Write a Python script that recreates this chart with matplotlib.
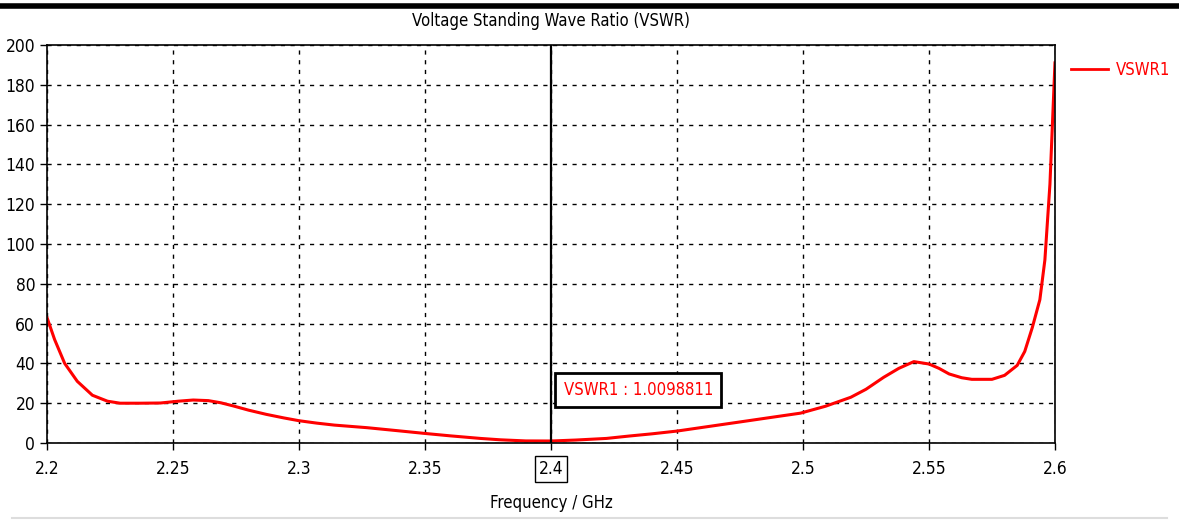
import matplotlib.pyplot as plt
from matplotlib.lines import Line2D

plt.rcParams['font.family'] = ['DejaVu Sans']
plt.rcParams['font.stretch'] = 'condensed'

# VSWR curve
freq = [2.200, 2.203, 2.207, 2.212, 2.218, 2.224, 2.229, 2.237, 2.245, 2.252,
        2.258, 2.264, 2.269, 2.274, 2.280, 2.287, 2.294, 2.300, 2.307, 2.314,
        2.327, 2.339, 2.350, 2.360, 2.372, 2.380, 2.390, 2.400, 2.410, 2.422,
        2.431, 2.440, 2.450, 2.462, 2.474, 2.487, 2.499, 2.509, 2.519, 2.525,
        2.532, 2.538, 2.544, 2.550, 2.554, 2.558, 2.563, 2.567, 2.575, 2.580,
        2.585, 2.588, 2.591, 2.594, 2.596, 2.598, 2.600]
vswr = [63, 52, 40, 31, 24, 21, 20, 20, 20.1, 21,
        21.6, 21.3, 20.2, 18.6, 16.5, 14.4, 12.6, 11.2, 10, 9,
        7.7, 6.2, 4.8, 3.6, 2.3, 1.6, 1.05, 1.01, 1.5, 2.3,
        3.5, 4.6, 6, 8.2, 10.4, 12.8, 15, 18.5, 23, 27,
        33, 37.5, 40.9, 39.7, 37.5, 34.7, 32.8, 32, 32, 34,
        39, 46, 58, 72, 92, 130, 191]

xticks = [2.2, 2.25, 2.3, 2.35, 2.4, 2.45, 2.5, 2.55, 2.6]
xlabels = ['2.2', '2.25', '2.3', '2.35', '2.4', '2.45', '2.5', '2.55', '2.6']
yticks = list(range(0, 201, 20))

marker_f = 2.4
marker_text = 'VSWR1 : 1.0098811'

fig = plt.figure(figsize=(11.79, 5.21), dpi=100)
ax = fig.add_axes([0.0399, 0.1497, 0.8549, 0.7639])

ax.plot(freq, vswr, color='red', lw=2.2, label='VSWR1')
ax.axvline(marker_f, color='black', lw=1.6)

ax.set_xlim(2.2, 2.6)
ax.set_ylim(0, 200)
ax.set_xticks(xticks)
ax.set_xticklabels(xlabels)
ax.set_yticks(yticks)
ax.grid(True, color='black', linestyle=(0, (3, 4)), lw=1)
ax.tick_params(axis='both', labelsize=12.5, colors='black', length=5, width=1)
ax.tick_params(axis='x', pad=7)
for s in ax.spines.values():
    s.set_linewidth(1.2)

for lab in ax.get_xticklabels():
    if lab.get_text() == '2.4':
        lab.set_bbox(dict(facecolor='white', edgecolor='black', lw=1, pad=3))

ax.set_title('Voltage Standing Wave Ratio (VSWR)', fontsize=12, pad=14)
ax.set_xlabel('Frequency / GHz', fontsize=12, labelpad=12)

ax.text(2.4346, 26.6, marker_text, color='red', fontsize=12, ha='center', va='center',
        bbox=dict(facecolor='white', edgecolor='black', lw=2, pad=6))

fig.legend(handles=[Line2D([], [], color='red', lw=2)], labels=['VSWR1'],
           loc='upper left', bbox_to_anchor=(1056 / 1179, 1 - 46 / 521),
           frameon=False, labelcolor='red', fontsize=12, handlelength=2.2,
           handletextpad=0.5)

# page decorations: thick rule at top, thin grey rule at bottom
fig.add_artist(Line2D([0, 1], [1 - 6 / 521, 1 - 6 / 521], color='black', lw=4))
fig.add_artist(Line2D([0.01, 0.99], [1 - 518 / 521, 1 - 518 / 521], color='#dddddd', lw=1.5))

fig.savefig('out.png', dpi=100)
